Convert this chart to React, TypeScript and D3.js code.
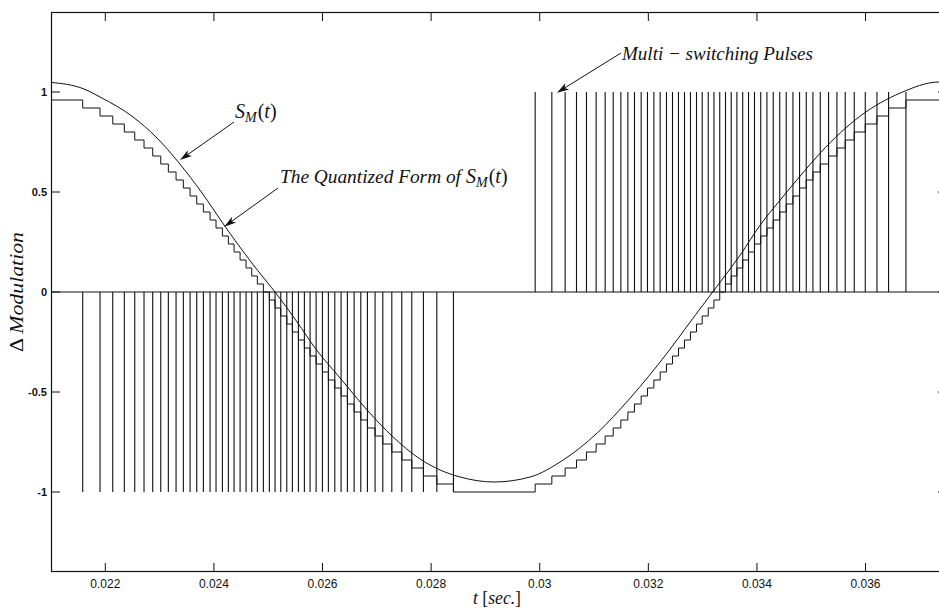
import React from "react";
import * as d3 from "d3";

// ---------- data ----------
const T_DOMAIN = [0.021, 0.0375];
const Y_DOMAIN = [-1.4, 1.4];

const xTicks = [0.022, 0.024, 0.026, 0.028, 0.03, 0.032, 0.034, 0.036];
const xTickLabels = ["0.022", "0.024", "0.026", "0.028", "0.03", "0.032", "0.034", "0.036"];
const yTicks = [-1, -0.5, 0, 0.5, 1];
const yTickLabels = ["-1", "-0.5", "0", "0.5", "1"];

// modulating signal S_M(t)
const smTime = [
  0.021, 0.021608, 0.021903, 0.022511, 0.022934, 0.023358, 0.023782, 0.024187,
  0.024684, 0.025182, 0.025532, 0.025863, 0.026324, 0.026821, 0.0273, 0.027797,
  0.028166, 0.028534, 0.02916, 0.029823, 0.030432, 0.031058, 0.031666, 0.032347,
  0.032771, 0.033213, 0.033692, 0.034061, 0.034429, 0.034797, 0.035166, 0.035903,
  0.03664, 0.037358, 0.0375,
];
const smValue = [
  1.048, 1.015, 0.975, 0.875, 0.775, 0.645, 0.495, 0.335,
  0.15, -0.02, -0.15, -0.28, -0.43, -0.59, -0.725, -0.835,
  -0.89, -0.925, -0.95, -0.925, -0.84, -0.705, -0.53, -0.305,
  -0.15, 0.01, 0.185, 0.335, 0.46, 0.58, 0.695, 0.88,
  0.995, 1.05, 1.05,
];

// switching pulse instants (negative pulses, then positive pulses)
const negPulseTimes = [
  0.021584, 0.021903, 0.022137, 0.02235, 0.022542, 0.022713, 0.022873, 0.023021,
  0.023161, 0.023303, 0.023437, 0.023561, 0.023684, 0.023806, 0.023929, 0.024039,
  0.024156, 0.024266, 0.024371, 0.024482, 0.024592, 0.024697, 0.0248, 0.024911,
  0.025021, 0.025126, 0.025231, 0.025342, 0.025445, 0.025556, 0.025666, 0.025771,
  0.025882, 0.025998, 0.026108, 0.026226, 0.026342, 0.026458, 0.026582, 0.026705,
  0.026827, 0.026968, 0.02711, 0.027276, 0.02746, 0.027644, 0.027858, 0.028105,
  0.028411,
];
const posPulseTimes = [
  0.029916, 0.030223, 0.030468, 0.030677, 0.030861, 0.031039, 0.031205, 0.031353,
  0.031494, 0.031623, 0.031745, 0.031868, 0.031984, 0.032102, 0.032218, 0.032334,
  0.032445, 0.032555, 0.032666, 0.032776, 0.032887, 0.032992, 0.033103, 0.033208,
  0.033315, 0.033421, 0.033526, 0.033631, 0.033738, 0.033845, 0.033955, 0.03407,
  0.034184, 0.0343, 0.03442, 0.034539, 0.034663, 0.034785, 0.034908, 0.035031,
  0.035166, 0.035319, 0.035473, 0.035626, 0.035792, 0.035995, 0.03621, 0.036424,
  0.036744,
];
const PULSE_AMP = 1;
const Q_START = 0.96; // quantized level at the left edge
const Q_STEP = 0.04; // quantization step per pulse

// annotations in data units
const annSM = { text: [0.024388, 0.87], tail: [0.02437, 0.85], tip: [0.023376, 0.66] };
const annQ = { text: [0.025217, 0.545], tail: [0.02518, 0.52], tip: [0.024191, 0.3265] };
const annP = { text: [0.031515, 1.16], tail: [0.031497, 1.195], tip: [0.030318, 0.9965] };

// ---------- layout ----------
const W = 939;
const H = 612;
const L = 51;
const R = 947;
const T = 12;
const B = 572;
const TICK = 9;

const SERIF = "'Liberation Serif', 'Times New Roman', serif";
const SANS = "'Liberation Sans', Arial, sans-serif";
const NARROW = "'Liberation Sans Narrow', 'Liberation Sans', Arial, sans-serif";

function Arrow({ tail, tip, x, y }: any) {
  const x1 = x(tail[0]), y1 = y(tail[1]), x2 = x(tip[0]), y2 = y(tip[1]);
  const dx = x2 - x1, dy = y2 - y1;
  const len = Math.hypot(dx, dy);
  const ux = dx / len, uy = dy / len;
  const nx = -uy, ny = ux;
  const HL = 12, HW = 3.6;
  const bx = x2 - ux * HL, by = y2 - uy * HL;
  const pts = `${x2},${y2} ${bx + nx * HW},${by + ny * HW} ${x2 - ux * HL * 0.75},${y2 - uy * HL * 0.75} ${bx - nx * HW},${by - ny * HW}`;
  return (
    <g>
      <line x1={x1} y1={y1} x2={x2 - ux * HL * 0.7} y2={y2 - uy * HL * 0.7} stroke="#111" strokeWidth={1} />
      <polygon points={pts} fill="#111" />
    </g>
  );
}

function SMt({ px, py, size }: any) {
  return (
    <text x={px} y={py} fontFamily={SERIF} fontSize={size} fill="#111">
      <tspan fontStyle="italic">S</tspan>
      <tspan fontStyle="italic" fontSize={size * 0.7} dy={size * 0.22}>M</tspan>
      <tspan dy={-size * 0.22} dx={1}>(</tspan>
      <tspan fontStyle="italic">t</tspan>
      <tspan>)</tspan>
    </text>
  );
}

export default function App() {
  const x = d3.scaleLinear().domain(T_DOMAIN).range([L, R]);
  const y = d3.scaleLinear().domain(Y_DOMAIN).range([B, T]);

  const line = d3
    .line<[number, number]>()
    .x((d) => x(d[0]))
    .y((d) => y(d[1]));

  // S_M(t)
  const smPts: [number, number][] = smTime.map((t, i) => [t, smValue[i]]);
  const smPath = d3
    .line<[number, number]>()
    .x((d) => x(d[0]))
    .y((d) => y(d[1]))
    .curve(d3.curveMonotoneX)(smPts);

  // pulses sorted in time with their sign
  const pulses = [
    ...negPulseTimes.map((t) => ({ t, s: -1 })),
    ...posPulseTimes.map((t) => ({ t, s: 1 })),
  ].sort((a, b) => a.t - b.t);

  // pulse train
  const pulsePts: [number, number][] = [[T_DOMAIN[0], 0]];
  pulses.forEach((p) => {
    pulsePts.push([p.t, 0], [p.t, p.s * PULSE_AMP], [p.t, 0]);
  });
  pulsePts.push([T_DOMAIN[1], 0]);
  const pulsePath = line(pulsePts);

  // quantized staircase: one step per pulse
  const stairPts: [number, number][] = [[T_DOMAIN[0], Q_START]];
  let level = Q_START;
  pulses.forEach((p) => {
    level += p.s * Q_STEP;
    stairPts.push([p.t, level]);
  });
  stairPts.push([T_DOMAIN[1], level]);
  const stairPath = d3
    .line<[number, number]>()
    .x((d) => x(d[0]))
    .y((d) => y(d[1]))
    .curve(d3.curveStepAfter)(stairPts);

  return (
    <svg
      width={W}
      height={H}
      style={{ position: "absolute", left: 0, top: 0, background: "#fff" }}
    >
      <defs>
        <clipPath id="plot">
          <rect x={L} y={T} width={R - L} height={B - T} />
        </clipPath>
      </defs>
      <rect x={0} y={0} width={W} height={H} fill="#fff" />

      <g clipPath="url(#plot)" fill="none" stroke="#111" strokeWidth={1}>
        <path d={pulsePath || ""} strokeWidth={1.1} />
        <path d={stairPath || ""} />
        <path d={smPath || ""} />
      </g>

      {/* frame */}
      <rect x={L + 0.5} y={T + 0.5} width={R - L - 1} height={B - T - 1} fill="none" stroke="#111" strokeWidth={1.2} />

      {/* x ticks */}
      {xTicks.map((t, i) => (
        <g key={"xt" + i}>
          <line x1={x(t)} x2={x(t)} y1={B} y2={B - TICK} stroke="#111" />
          <line x1={x(t)} x2={x(t)} y1={T} y2={T + TICK} stroke="#111" />
          <text x={x(t)} y={B + 16} textAnchor="middle" fontFamily={NARROW} fontSize={12} fill="#111">
            {xTickLabels[i]}
          </text>
        </g>
      ))}

      {/* y ticks */}
      {yTicks.map((v, i) => (
        <g key={"yt" + i}>
          <line x1={L} x2={L + TICK} y1={y(v)} y2={y(v)} stroke="#111" />
          <line x1={R} x2={R - TICK} y1={y(v)} y2={y(v)} stroke="#111" />
          <text x={L - 4} y={y(v) + 4} textAnchor="end" fontFamily={SANS} fontSize={11} fontWeight="bold" fill="#111">
            {yTickLabels[i]}
          </text>
        </g>
      ))}

      {/* axis labels */}
      <text x={(L + R) / 2 - 2} y={604} textAnchor="middle" fontFamily={SERIF} fontSize={18} fill="#111" textLength={48} lengthAdjust="spacingAndGlyphs">
        <tspan fontStyle="italic">t</tspan>
        <tspan> [</tspan>
        <tspan fontStyle="italic">sec.</tspan>
        <tspan>]</tspan>
      </text>
      <text
        transform={`translate(23, ${(T + B) / 2}) rotate(-90)`}
        textAnchor="middle"
        fontFamily={SERIF}
        fontSize={19}
        fill="#111"
        textLength={120}
        lengthAdjust="spacingAndGlyphs"
      >
        <tspan>Δ </tspan>
        <tspan fontStyle="italic">Modulation</tspan>
      </text>

      {/* annotations */}
      <Arrow tail={annSM.tail} tip={annSM.tip} x={x} y={y} />
      <SMt px={x(annSM.text[0])} py={y(annSM.text[1])} size={20} />

      <Arrow tail={annQ.tail} tip={annQ.tip} x={x} y={y} />
      <text x={x(annQ.text[0])} y={y(annQ.text[1])} fontFamily={SERIF} fontSize={19} fontStyle="italic" fill="#111" textLength={181} lengthAdjust="spacingAndGlyphs">
        The Quantized Form of
      </text>
      <SMt px={x(annQ.text[0]) + 186} py={y(annQ.text[1])} size={20} />

      <Arrow tail={annP.tail} tip={annP.tip} x={x} y={y} />
      <text x={x(annP.text[0])} y={y(annP.text[1])} fontFamily={SERIF} fontSize={19} fontStyle="italic" fill="#111" textLength={191} lengthAdjust="spacingAndGlyphs">
        Multi − switching Pulses
      </text>
    </svg>
  );
}
